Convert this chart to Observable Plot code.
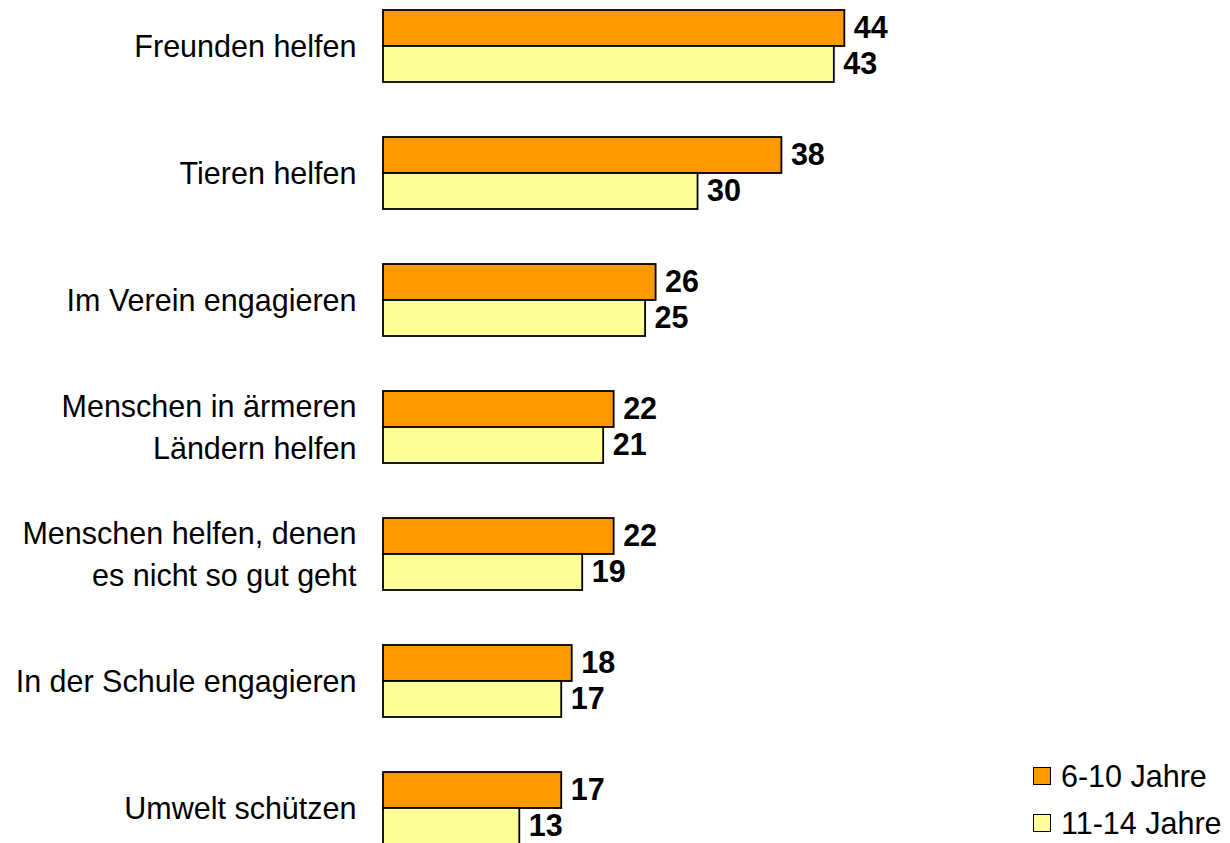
<!DOCTYPE html>
<html>
<head>
<meta charset="utf-8">
<script src="https://cdn.jsdelivr.net/npm/d3@7"></script>
<script src="https://cdn.jsdelivr.net/npm/@observablehq/plot@0.6"></script>
<style>
  html, body { margin: 0; padding: 0; background: #fff; overflow: hidden; }
  #wrap { position: relative; width: 1230px; height: 843px; font-family: "Liberation Sans", Arial, sans-serif; }
  #legend { position: absolute; left: 1033px; top: 0; font-size: 30.5px; color: #000; }
  #legend .item { position: absolute; left: 0; display: flex; align-items: center; height: 28px; line-height: 28px; white-space: nowrap; }
  #legend .sw { width: 16px; height: 16px; border: 1.5px solid #000; margin-right: 10px; box-sizing: content-box; flex: none; }
</style>
</head>
<body>
<div id="wrap"><div id="chart"></div><div id="legend"></div></div>
<script>
const categories = [
  "Freunden helfen",
  "Tieren helfen",
  "Im Verein engagieren",
  "Menschen in ärmeren\nLändern helfen",
  "Menschen helfen, denen\nes nicht so gut geht",
  "In der Schule engagieren",
  "Umwelt schützen"
];
const groups = ["6-10 Jahre", "11-14 Jahre"];
const colors = ["#FF9900", "#FFFF99"];
const values6to10 = [44, 38, 26, 22, 22, 18, 17];
const values11to14 = [43, 30, 25, 21, 19, 17, 13];

const rows = [];
categories.forEach((c, i) => {
  rows.push({category: c, group: groups[0], value: values6to10[i]});
  rows.push({category: c, group: groups[1], value: values11to14[i]});
});

const chart = Plot.plot({
  width: 1230,
  height: 847,
  marginLeft: 383,
  marginRight: 3,
  marginTop: 7,
  marginBottom: 0,
  style: {fontFamily: "'Liberation Sans', Arial, sans-serif", background: "#fff", color: "#000"},
  x: {domain: [0, 80.5], axis: null},
  y: {domain: groups, padding: 0, axis: null},
  fy: {domain: categories, paddingInner: 0.422, paddingOuter: 0, label: null, axis: null},
  color: {domain: groups, range: colors},
  marks: [
    Plot.barX(rows, {fy: "category", y: "group", x: "value", fill: "group", stroke: "#000", strokeWidth: 1.8}),
    Plot.text(rows, {fy: "category", y: "group", x: "value", text: d => String(d.value), textAnchor: "start", dx: 9, fontWeight: "bold", fontSize: 30.5, fill: "#000"}),
    Plot.axisFy({anchor: "left", tickSize: 0, tickPadding: 27, fontSize: 30.5, label: null, lineHeight: 1.37, fill: "#000", dy: -2})
  ]
});
document.getElementById("chart").appendChild(chart);

const legend = document.getElementById("legend");
const legendTops = [762, 809];
groups.forEach((g, i) => {
  const item = document.createElement("div");
  item.className = "item";
  item.style.top = legendTops[i] + "px";
  const sw = document.createElement("span");
  sw.className = "sw";
  sw.style.background = colors[i];
  const t = document.createElement("span");
  t.textContent = g;
  item.appendChild(sw);
  item.appendChild(t);
  legend.appendChild(item);
});
</script>
</body>
</html>
